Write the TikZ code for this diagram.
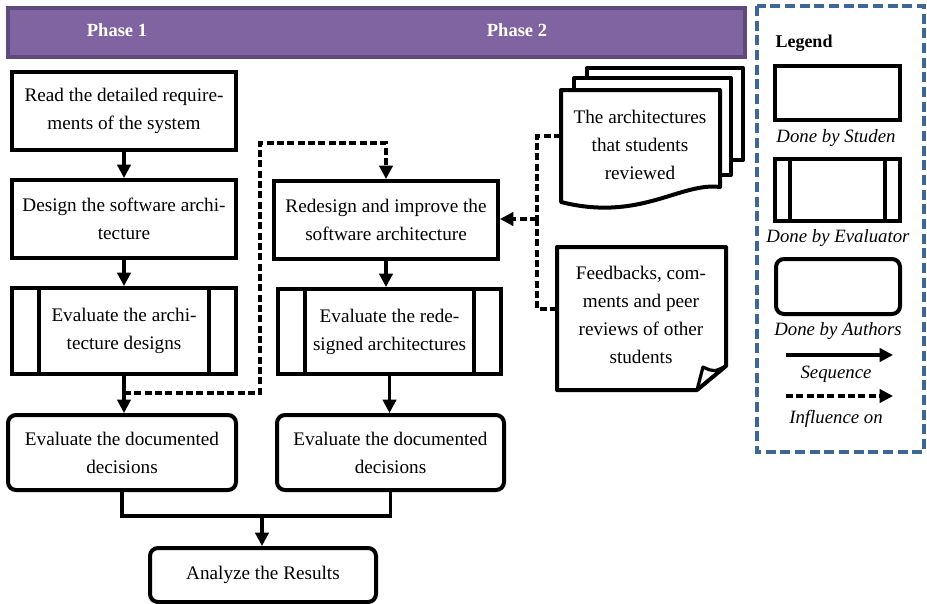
\documentclass[tikz,border=0pt]{standalone}
\usepackage{fontspec}
\setmainfont{Liberation Serif}
\usetikzlibrary{arrows.meta}
\definecolor{phasefill}{HTML}{8064A2}
\definecolor{phaseborder}{HTML}{5F4A7D}
\definecolor{legblue}{HTML}{3E6796}
\begin{document}
\begin{tikzpicture}[x=0.75pt,y=-0.75pt,
 txt/.style={font=\fontsize{14.4}{21}\selectfont, align=center, inner sep=0pt},
 box/.style={txt, draw, line width=3pt, fill=white},
 studbox/.style={box, rectangle},
 authbox/.style={box, rounded corners=6pt},
 evalbox/.style={box, path picture={
   \draw[line width=3pt] ([xshift=#1]path picture bounding box.north west) -- ([xshift=#1]path picture bounding box.south west);
   \draw[line width=3pt] ([xshift=-#1]path picture bounding box.north east) -- ([xshift=-#1]path picture bounding box.south east);}},
 flowline/.style={line width=2.3pt},
 seq/.style={flowline, -{Triangle[length=10pt,width=10pt]}},
 infl/.style={seq, dash pattern=on 5.25pt off 2.5pt},
 dashline/.style={flowline, dash pattern=on 5.25pt off 2.5pt},
 docline/.style={line width=3pt, draw=black, fill=white, line join=round},
 phase/.style={font=\bfseries\fontsize{13.9}{16}\selectfont, text=white},
 leglabel/.style={font=\fontsize{14.1}{16}\selectfont\itshape, inner sep=0pt},
]
\useasboundingbox (0,0) rectangle (927,603);

% phase bar
\node[draw=phaseborder, fill=phasefill, line width=2.5pt, minimum width=552.75pt, minimum height=36.75pt] (bar) at (376.5,32.5) {};
\node[phase] (p1) at (117,30) {Phase 1};
\node[phase] (p2) at (517,30) {Phase 2};

% phase 1 column
\node[studbox, minimum width=168pt, minimum height=58.5pt] (b1) at (124,111) {Read the detailed require-\\ments of the system};
\node[studbox, minimum width=168pt, minimum height=58.5pt] (b2) at (124,219) {Design the software archi-\\tecture};
\node[evalbox=20.25pt, minimum width=168pt, minimum height=64.5pt] (b3) at (124,331) {Evaluate the archi-\\tecture designs};
\node[authbox, minimum width=171pt, minimum height=56.25pt] (b4) at (122,452.5) {Evaluate the documented\\decisions};

% phase 2 column
\node[studbox, minimum width=168pt, minimum height=58.5pt] (r1) at (386,220) {Redesign and improve the\\software architecture};
\node[evalbox=20.25pt, minimum width=167.25pt, minimum height=63.75pt] (r2) at (389.5,331.5) {Evaluate the rede-\\signed architectures};
\node[authbox, minimum width=170.25pt, minimum height=56.25pt] (r3) at (390.5,452.5) {Evaluate the documented\\decisions};

\node[authbox, minimum width=169.5pt, minimum height=40.5pt] (an) at (263,575) {Analyze the Results};

% sequence connectors
\draw[seq] (b1) -- (b2);
\draw[seq] (b2) -- (b3);
\draw[seq] (b3.south) -- (b3.south |- b4.north);
\draw[seq] (r1.south) -- (r1.south |- r2.north);
\draw[seq] (r2.south) -- (r2.south |- r3.north);
\coordinate (mid) at (262,516);
\draw[flowline] (b4.south) |- (mid) -| (r3.south);
\draw[seq] (mid) -- (mid |- an.north);

% influence from phase 1 evaluation to redesign
\coordinate (d1) at (124,393);
\coordinate (dc) at (260,143);
\draw[infl] (d1) -| (dc) -| (r1.north);

% documents
\filldraw[docline] (587,68) rectangle (743,160);
\filldraw[docline] (574,78) rectangle (731,175);
\filldraw[docline] (561,90) -- (720,90) -- (720,187) .. controls (680,182) and (640,222) .. (561,202) -- cycle;
\node[txt] (docs) at (640,145) {The architectures\\that students\\reviewed};

% note
\filldraw[docline] (557,247) -- (726,247) -- (726,366) -- (697,390) -- (557,390) -- cycle;
\draw[line width=2.4pt, line join=round] (697,390) .. controls (700,378) .. (703,367) .. controls (714,372) .. (726,366);
\node[txt] (note) at (641,315) {Feedbacks, com-\\ments and peer\\reviews of other\\students};

\coordinate (docL) at (561,136);
\coordinate (noteL) at (557,309);
\coordinate (jn) at (537,219);
\draw[dashline] (docL) -| (jn);
\draw[dashline] (noteL) -| (jn);
\draw[infl] (jn) -- (jn -| r1.east);

% legend
\draw[legblue, line width=3pt, dash pattern=on 7.5pt off 3.5pt] (757,6) rectangle (924,452);
\node[font=\bfseries\fontsize{13.5}{15}\selectfont] (lt) at (804,43) {Legend};
\node[studbox, minimum width=93.75pt, minimum height=40.5pt] (l1) at (837.5,93) {};
\node[leglabel] (l1t) at (836,138) {Done by Studen};
\node[evalbox=11.6pt, minimum width=93.75pt, minimum height=46.5pt] (l2) at (837.5,190) {};
\node[leglabel] (l2t) at (838,238) {Done by Evaluator};
\node[authbox, minimum width=93pt, minimum height=41.25pt] (l3) at (838,286.5) {};
\node[leglabel] (l3t) at (838,331) {Done by Authors};
\coordinate (s1) at (786,355);
\coordinate (s2) at (893,355);
\draw[seq] (s1) -- (s2);
\node[leglabel] (l4t) at (836,374) {Sequence};
\coordinate (i1) at (786,396);
\coordinate (i2) at (893,396);
\draw[infl] (i1) -- (i2);
\node[leglabel] (l5t) at (836,419) {Influence on};
\end{tikzpicture}
\end{document}
